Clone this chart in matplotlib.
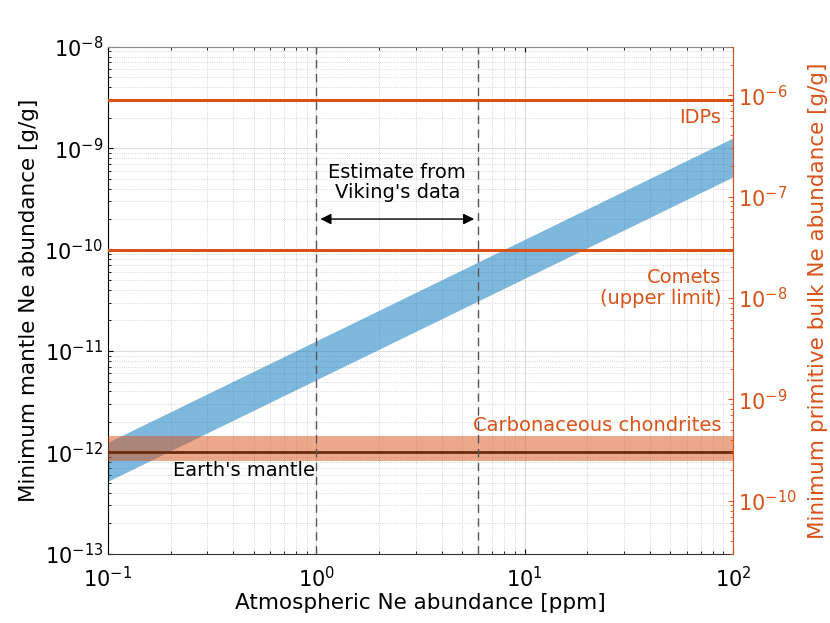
import matplotlib
matplotlib.use("Agg")
from matplotlib import pyplot as plt
from matplotlib.ticker import LogLocator, NullFormatter

# data (left axis units, g/g)
atm_ne = [0.1, 100]                 # ppm
mantle_low = [5.2e-13, 5.2e-10]
mantle_high = [1.26e-12, 1.26e-9]
idps = 3.0e-9
comets = 1.0e-10
chondrites_low = 0.83e-12
chondrites_high = 1.44e-12
earth_mantle = 1.0e-12
viking = [1, 6]
right_scale = 300                   # right axis = left axis * 300

orange = "#D95319"
blue = "#0072BD"

plt.rcParams['font.family'] = ['DejaVu Sans']

fig = plt.figure(figsize=(8.3, 6.23), dpi=100)
ax = fig.add_axes([0.130, 0.111, 0.753, 0.814])
ax.set_xscale("log")
ax.set_yscale("log")
ax.set_xlim(0.1, 100)
ax.set_ylim(1e-13, 1e-8)

ax.grid(True, which="major", color="#dddddd", linewidth=0.8, linestyle="-")
ax.grid(True, which="minor", color="#c8c8c8", linewidth=0.6, linestyle=":")
ax.set_axisbelow(True)

ax.fill_between(atm_ne, mantle_low, mantle_high, color=blue, alpha=0.5, linewidth=0, zorder=2)
ax.fill_between(atm_ne, [chondrites_low] * 2, [chondrites_high] * 2, color=orange, alpha=0.5,
                linewidth=0, zorder=3)
ax.plot(atm_ne, [earth_mantle] * 2, color="#6a2a0c", linewidth=2, zorder=4)
ax.plot(atm_ne, [idps] * 2, color=orange, linewidth=2.2, zorder=4)
ax.plot(atm_ne, [comets] * 2, color=orange, linewidth=2.2, zorder=4)

for v in viking:
    ax.axvline(v, color="#555555", linestyle=(0, (6, 4)), linewidth=1, zorder=4)

ax.annotate("", xy=(viking[0], 2.0e-10), xytext=(viking[1], 2.0e-10),
            arrowprops=dict(arrowstyle="<|-|>", color="black", lw=1, mutation_scale=16,
                            shrinkA=3, shrinkB=3), zorder=5)
ax.text((viking[0] * viking[1]) ** 0.5, 4.6e-10, "Estimate from\nViking's data", ha="center",
        va="center", fontsize=14, linespacing=1.1)

ax.text(88, 2.0e-9, "IDPs", color=orange, ha="right", va="center", fontsize=14)
ax.text(88, 4.2e-11, "Comets\n(upper limit)", color=orange, ha="right", va="center",
        fontsize=14, multialignment="right", linespacing=1.15)
ax.text(88, 1.85e-12, "Carbonaceous chondrites", color=orange, ha="right", va="center", fontsize=14)
ax.text(0.205, 6.7e-13, "Earth's mantle", color="black", ha="left", va="center", fontsize=14)

ax.set_xlabel("Atmospheric Ne abundance [ppm]", fontsize=15.5, labelpad=1)
ax.set_ylabel("Minimum mantle Ne abundance [g/g]", fontsize=15.5, labelpad=4)
ax.tick_params(which="both", direction="in", top=True, labelsize=15)
ax.tick_params(axis="y", which="both", right=False)
ax.tick_params(axis="x", pad=9)
ax.yaxis.set_major_locator(LogLocator(base=10, numticks=10))
ax.yaxis.set_minor_locator(LogLocator(base=10, subs=range(2, 10), numticks=20))
ax.yaxis.set_minor_formatter(NullFormatter())
for s in ["top", "right"]:
    ax.spines[s].set_color("#888888")
ax.spines["bottom"].set_color("#333333")
ax.spines["left"].set_color("black")

ax2 = ax.twinx()
ax2.set_yscale("log")
ax2.set_ylim(1e-13 * right_scale, 1e-8 * right_scale)
ax2.yaxis.set_major_locator(LogLocator(base=10, numticks=10))
ax2.yaxis.set_minor_locator(LogLocator(base=10, subs=range(2, 10), numticks=20))
ax2.yaxis.set_minor_formatter(NullFormatter())
ax2.tick_params(which="both", direction="in", colors=orange, labelsize=15)
ax2.spines["right"].set_color(orange)
for s in ["top", "left", "bottom"]:
    ax2.spines[s].set_visible(False)
ax2.set_ylabel("Minimum primitive bulk Ne abundance [g/g]", color=orange, fontsize=15.5, labelpad=8)

fig.savefig("out.png", dpi=100)
